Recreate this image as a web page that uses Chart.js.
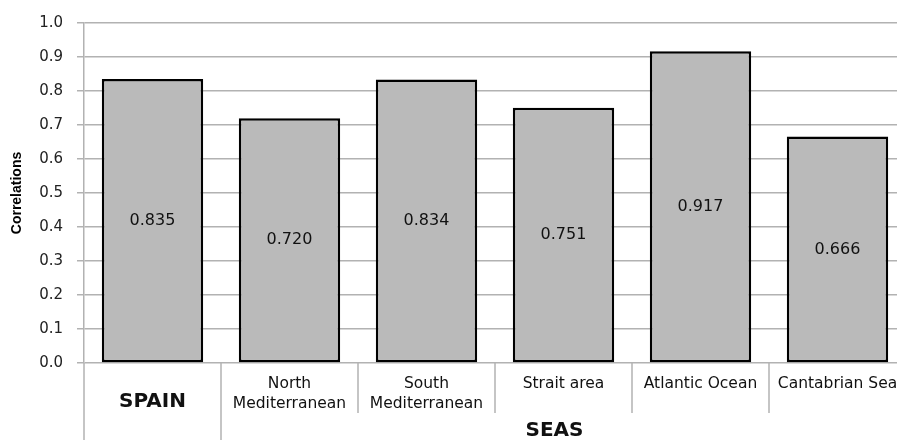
<!DOCTYPE html>
<html>
<head>
<meta charset="utf-8">
<script src="https://cdn.jsdelivr.net/npm/chart.js@4.4.1/dist/chart.umd.min.js"></script>
<style>
    body { margin: 0; overflow: hidden; background: #fff; }
    #wrap { width: 908px; height: 440px; }
</style>
</head>
<body>
<div id="wrap"><canvas id="myChart"></canvas></div>
<script>
// data
const categories = ["SPAIN", ["North", "Mediterranean"], ["South", "Mediterranean"], "Strait area", "Atlantic Ocean", "Cantabrian Sea"]
const correlations = [0.835, 0.720, 0.834, 0.751, 0.917, 0.666]
const yTickValues = [0.0, 0.1, 0.2, 0.3, 0.4, 0.5, 0.6, 0.7, 0.8, 0.9, 1.0]
const groupNames = ["SPAIN", "SEAS"]
const groupStart = [0, 1]
const groupEnd = [0, 5]

const gridGrey = "#b2b2b2"
const numFont = "'DejaVu Sans', Verdana, sans-serif"
const narrowBold = "'Liberation Sans Narrow', 'Liberation Sans', Arial, sans-serif"

// value written in the middle of each bar
const barValues = {
    id: "barValues",
    afterDatasetsDraw(chart) {
        let ctx = chart.ctx
        let meta = chart.getDatasetMeta(0)
        ctx.save()
        ctx.font = "16px " + numFont
        ctx.fillStyle = "#111"
        ctx.textAlign = "center"
        ctx.textBaseline = "middle"
        meta.data.forEach((bar, i) => {
            ctx.fillText(correlations[i].toFixed(3), bar.x, (bar.y + bar.base) / 2)
        })
        ctx.restore()
    }
}

// category row, group row and the separators under the axis
const groupAxis = {
    id: "groupAxis",
    afterDraw(chart) {
        let ctx = chart.ctx
        let area = chart.chartArea
        let x = chart.scales.x
        let bottom = area.bottom
        let H = chart.height
        let edge = (i) => (x.getPixelForValue(i) + x.getPixelForValue(i + 1)) / 2

        ctx.save()
        ctx.strokeStyle = gridGrey
        ctx.lineWidth = 1.5
        ctx.beginPath()
        ctx.moveTo(area.left, bottom)
        ctx.lineTo(area.left, H)
        for (let i = 0; i < categories.length - 1; i++) {
            let xx = edge(i)
            let isGroupEdge = groupEnd.includes(i)
            ctx.moveTo(xx, bottom)
            ctx.lineTo(xx, isGroupEdge ? H : bottom + 50)
        }
        ctx.stroke()

        ctx.fillStyle = "#111"
        ctx.textAlign = "center"
        ctx.textBaseline = "middle"
        groupNames.forEach((name, g) => {
            let a = groupStart[g], b = groupEnd[g]
            let left = a == 0 ? area.left : edge(a - 1)
            let right = b == categories.length - 1 ? area.right : edge(b)
            ctx.font = "bold 20px " + numFont
            if (a == b) {
                ctx.fillText(name, (left + right) / 2, bottom + 39)
            } else {
                ctx.fillText(name, (left + right) / 2 - 9, bottom + 68)
                ctx.font = "15.5px " + numFont
                for (let i = a; i <= b; i++) {
                    let lines = Array.isArray(categories[i]) ? categories[i] : [categories[i]]
                    lines.forEach((t, k) => {
                        ctx.fillText(t, x.getPixelForValue(i), bottom + 21 + k * 20)
                    })
                }
            }
        })
        ctx.restore()
    }
}

let corrChart = new Chart("myChart", {
    type: "bar",
    data: {
        labels: categories,
        datasets: [{
            label: "Correlations",
            data: correlations,
            backgroundColor: "#bababa",
            borderColor: "#000",
            borderWidth: 2.5,
            borderSkipped: false,
            barPercentage: 0.74,
            categoryPercentage: 1
        }]
    },
    options: {
        responsive: true,
        maintainAspectRatio: false,
        animation: false,
        layout: { padding: { top: 21, right: 2, left: 0, bottom: 0 } },
        plugins: {
            legend: { display: false },
            tooltip: { enabled: false }
        },
        scales: {
            x: {
                grid: { display: false },
                border: { display: false },
                ticks: { display: false },
                afterFit: (scale) => { scale.height = 77 }
            },
            y: {
                min: 0,
                max: 1,
                afterBuildTicks: (axis) => { axis.ticks = yTickValues.map(v => ({ value: v })) },
                ticks: {
                    padding: 14,
                    color: "#222",
                    font: { family: numFont, size: 15 },
                    callback: (v) => Number(v).toFixed(1)
                },
                grid: { color: gridGrey, lineWidth: 1.5, tickLength: 7 },
                border: { color: gridGrey, width: 1.5 },
                title: {
                    display: true,
                    text: "Correlations",
                    color: "#000",
                    font: { family: narrowBold, size: 14, weight: "bold" },
                    padding: { top: 9, bottom: 0 }
                },
                afterFit: (scale) => { scale.width = 84 }
            }
        }
    },
    plugins: [barValues, groupAxis]
})
</script>
</body>
</html>
